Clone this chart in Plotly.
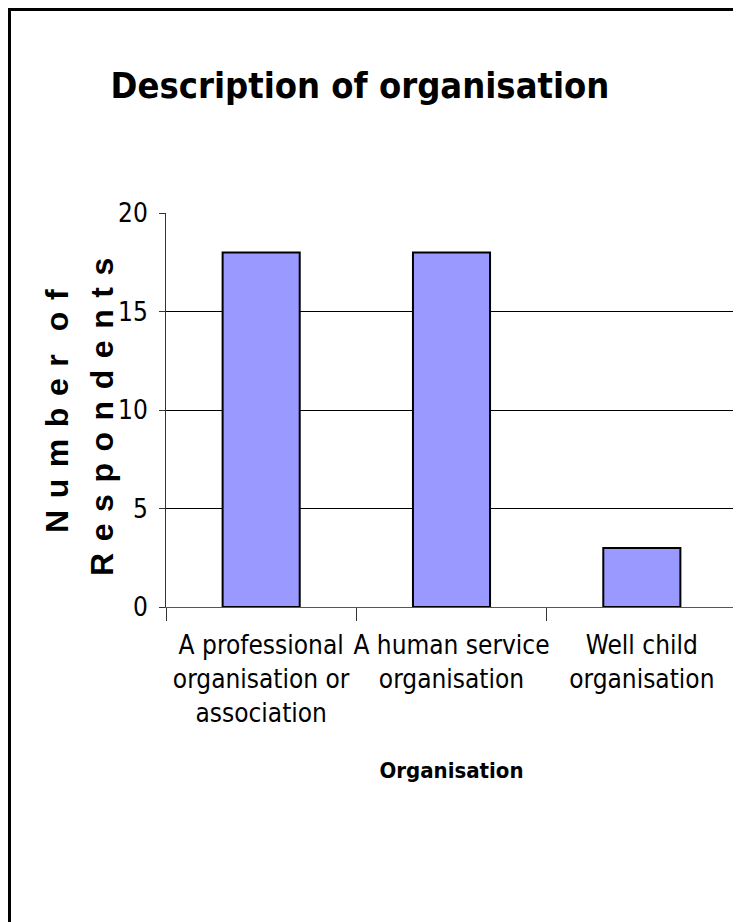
import plotly.graph_objects as go

categories = ["A professional<br>organisation or<br>association",
              "A human service<br>organisation",
              "Well child<br>organisation"]
respondents = [18, 18, 3]
y_ticks = [0, 5, 10, 15, 20]

NARROW = "DejaVu Sans Condensed, Liberation Sans Narrow, Arial Narrow, sans-serif"
SANS = "Liberation Sans, Arial, sans-serif"

OFF = 8  # page body margin
W, H = 741, 922
L, T = 166 - OFF, 213 - OFF
R = W - (737 - OFF)
B = H - (607 - OFF)
pw = W - L - R
ph = H - T - B

def px_x(x):
    return (x - OFF - L) / pw

def px_y(y):
    return (H - B - (y - OFF)) / ph

fig = go.Figure(go.Bar(
    x=categories, y=respondents,
    marker=dict(color="#9999FF", line=dict(color="black", width=2)),
    width=0.405,
))

sp = " \u200a"
line1 = sp.join("Number") + sp + sp + sp.join("of")
line2 = sp.join("Respondents")

fig.update_layout(
    width=W, height=H,
    margin=dict(l=L, r=R, t=T, b=B, autoexpand=False),
    paper_bgcolor="white", plot_bgcolor="white",
    showlegend=False,
    title=dict(text="<b>Description of organisation</b>",
               font=dict(family=NARROW, size=36, color="black"),
               x=(360 - OFF) / W, xanchor="center", xref="container",
               y=1 - (85 - OFF) / H, yanchor="middle", yref="container"),
    xaxis=dict(showline=True, linecolor="#555555", linewidth=1,
               automargin=False, tickangle=0,
               ticks="outside", tickson="boundaries", ticklen=13,
               tickcolor="#333333", ticklabelstandoff=15,
               tickfont=dict(family=NARROW, size=26, color="black"),
               title=dict(text="<b>Organisation</b>",
                          font=dict(family=NARROW, size=22, color="black"),
                          standoff=35)),
    yaxis=dict(range=[0, 20], tickvals=y_ticks, showline=True,
               automargin=False,
               linecolor="#333333", linewidth=1,
               ticks="outside", ticklen=6, tickcolor="#333333",
               ticklabelstandoff=6,
               showgrid=True, gridcolor="black", gridwidth=1,
               tickfont=dict(family=NARROW, size=26, color="black"),
               zeroline=False),
    annotations=[
        dict(text="<b>" + line1 + "</b>", textangle=-90,
             xref="paper", yref="paper", x=px_x(57), y=px_y(411),
             xanchor="center", yanchor="middle", showarrow=False,
             font=dict(family=SANS, size=32, color="black")),
        dict(text="<b>" + line2 + "</b>", textangle=-90,
             xref="paper", yref="paper", x=px_x(102), y=px_y(417),
             xanchor="center", yanchor="middle", showarrow=False,
             font=dict(family=SANS, size=32, color="black")),
    ],
    shapes=[dict(type="rect", xref="paper", yref="paper",
                 x0=px_x(OFF + 1.5), x1=px_x(780),
                 y0=px_y(960), y1=px_y(OFF + 1.5),
                 line=dict(color="black", width=3), layer="above")],
)

fig.write_html("out.html")
